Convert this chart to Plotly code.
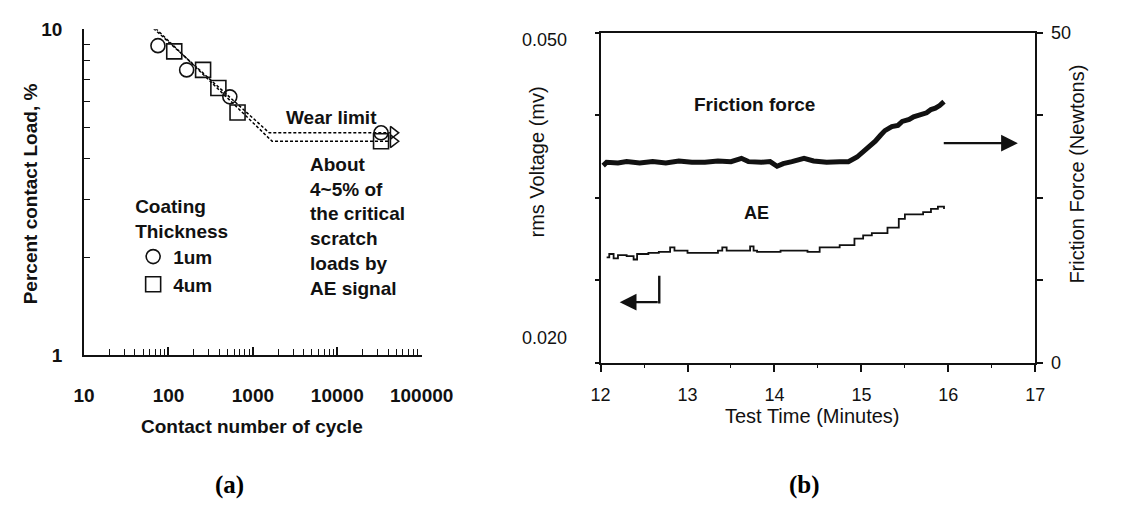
import plotly.graph_objects as go

# ---------------- Panel (a) data ----------------
cycles_1um = [75, 164, 533, 33000]
load_1um = [8.9, 7.5, 6.2, 4.81]
cycles_4um = [117, 257, 390, 658, 33000]
load_4um = [8.55, 7.5, 6.6, 5.55, 4.53]
upper_line_x = [60, 1560, 42000]
upper_line_y = [10.3, 4.81, 4.81]
lower_line_x = [64, 1690, 42000]
lower_line_y = [10.3, 4.53, 4.53]
arrow_x = [46000, 46000]
arrow_y = [4.81, 4.53]
a_xticks = [10, 100, 1000, 10000, 100000]
a_xticklabels = ["10", "100", "1000", "10000", "100000"]
a_yticks = [1, 10]
a_yticklabels = ["1", "10"]

# ---------------- Panel (b) data ----------------
time_ff = [12.03, 12.07, 12.2, 12.3, 12.45, 12.6, 12.75, 12.9, 13.05, 13.2, 13.35, 13.5,
           13.62, 13.7, 13.85, 13.95, 14.03, 14.1, 14.2, 14.34, 14.45, 14.6, 14.75, 14.85,
           14.95, 15.05, 15.1, 15.16, 15.22, 15.27, 15.35, 15.42, 15.47, 15.55, 15.6,
           15.7, 15.75, 15.8, 15.85, 15.9, 15.95]
friction = [29.9, 30.4, 30.3, 30.5, 30.3, 30.5, 30.3, 30.6, 30.4, 30.4, 30.6, 30.5,
            31.0, 30.5, 30.4, 30.5, 29.8, 30.2, 30.5, 31.0, 30.6, 30.4, 30.5, 30.5,
            31.2, 32.3, 32.7, 33.6, 34.5, 35.2, 35.8, 36.0, 36.6, 36.9, 37.3,
            37.8, 37.9, 38.4, 38.6, 39.0, 39.6]
time_ae = [12.07, 12.1, 12.15, 12.2, 12.3, 12.38, 12.42, 12.55, 12.67, 12.8, 12.85, 13.0,
           13.35, 13.4, 13.45, 13.72, 13.76, 13.8, 14.07, 14.38, 14.52, 14.75, 14.92, 15.02,
           15.12, 15.3, 15.43, 15.5, 15.71, 15.8, 15.88, 15.95]
ae_volt = [0.0296, 0.0299, 0.0295, 0.0298, 0.0297, 0.0294, 0.0299, 0.0300, 0.0301, 0.0305, 0.0302, 0.0300,
           0.0302, 0.0305, 0.0302, 0.0306, 0.0302, 0.0301, 0.0302, 0.0301, 0.0305, 0.0307, 0.0313, 0.0316,
           0.0318, 0.0323, 0.0331, 0.0335, 0.0337, 0.0340, 0.0342, 0.0340]
b_xticks = [12, 13, 14, 15, 16, 17]
b_left_ticks = [0.020, 0.0275, 0.035, 0.0425, 0.050]
b_right_ticks = [0, 12.5, 25, 37.5, 50]
b_right_labels = ["0", "", "", "", "50"]

W, H = 1125, 509
def px(x):
    return x / W
def py(y):
    return 1 - y / H

SANS = "Liberation Sans, Arial, sans-serif"
fa = dict(family=SANS, size=19, color="#111", weight="bold")
fb = dict(family=SANS, size=20, color="#111")

fig = go.Figure()

# Panel (a) traces
for lx, ly in ((upper_line_x, upper_line_y), (lower_line_x, lower_line_y)):
    fig.add_trace(go.Scatter(x=lx, y=ly, mode="lines", xaxis="x", yaxis="y",
                             line=dict(color="#000", width=1.5, dash="3px,2px"),
                             showlegend=False, hoverinfo="skip"))
fig.add_trace(go.Scatter(x=cycles_1um, y=load_1um, mode="markers", xaxis="x", yaxis="y", name="1um",
                         marker=dict(symbol="circle-open", size=14, color="#111", line=dict(width=1.6))))
fig.add_trace(go.Scatter(x=cycles_4um, y=load_4um, mode="markers", xaxis="x", yaxis="y", name="4um",
                         marker=dict(symbol="square-open", size=15, color="#111", line=dict(width=1.6))))
fig.add_trace(go.Scatter(x=arrow_x, y=arrow_y, mode="markers", xaxis="x", yaxis="y", showlegend=False,
                         marker=dict(symbol="triangle-right-open", size=11, color="#111", line=dict(width=1.5))))

# Panel (b) traces
fig.add_trace(go.Scatter(x=time_ae, y=ae_volt, mode="lines", xaxis="x2", yaxis="y2", showlegend=False,
                         line=dict(color="#111", width=1.8, shape="hv")))
fig.add_trace(go.Scatter(x=time_ff, y=friction, mode="lines", xaxis="x2", yaxis="y3", showlegend=False,
                         line=dict(color="#111", width=5)))

annotations = []
def txt(text, x, y, font, xanchor="center", yanchor="middle", angle=0, align="center"):
    annotations.append(dict(text=text, x=px(x), y=py(y), xref="paper", yref="paper", showarrow=False,
                            xanchor=xanchor, yanchor=yanchor, textangle=angle, font=font, align=align))

# Panel (a) text
txt("Percent contact Load, %", 20, 192, fa, angle=-90)
txt("Contact number of cycle", 251, 434, fa)
txt("Wear limit", 333, 112, fa)
txt("About<br>4~5% of<br>the critical<br>scratch<br>loads by<br>AE signal", 309, 226, fa,
    xanchor="left", align="left")
txt("<b>(a)</b>", 227, 495, dict(family="Liberation Serif, Times New Roman, serif", size=25, color="#000"))

# Panel (b) text
txt("rms Voltage (mv)", 547, 159, fb, angle=-90)
txt("Friction Force (Newtons)", 1108, 171, fb, angle=-90)
txt("Test Time (Minutes)", 833, 423, fb)
txt("Friction force", 773, 99, dict(family=SANS, size=19, color="#111", weight="bold"))
txt("AE", 775, 212, dict(family=SANS, size=18, color="#111", weight="bold"))
txt("0.050", 580, 31, dict(family=SANS, size=18, color="#111"), xanchor="right")
txt("0.020", 580, 342, dict(family=SANS, size=18, color="#111"), xanchor="right")
txt("<b>(b)</b>", 825, 495, dict(family="Liberation Serif, Times New Roman, serif", size=25, color="#000"))

# Arrows in panel (b)
annotations.append(dict(x=16.8, y=33.3, xref="x2", yref="y3", ax=15.93, ay=33.3, axref="x2", ayref="y3",
                        showarrow=True, arrowhead=2, arrowsize=1.4, arrowwidth=2.4, arrowcolor="#111", text=""))
annotations.append(dict(x=12.22, y=9.2, xref="x2", yref="y3", ax=12.675, ay=9.2, axref="x2", ayref="y3",
                        showarrow=True, arrowhead=2, arrowsize=1.4, arrowwidth=2.4, arrowcolor="#111", text=""))
shapes = [dict(type="line", xref="x2", yref="y3", x0=12.675, x1=12.675, y0=13.2, y1=9.0,
               line=dict(color="#111", width=2.4))]

a_minor_x = [m * d for d in (10, 100, 1000, 10000) for m in range(2, 10)]
a_minor_y = list(range(2, 10))

fig.update_layout(
    width=W, height=H, margin=dict(l=0, r=0, t=0, b=0),
    paper_bgcolor="white", plot_bgcolor="white",
    annotations=annotations, shapes=shapes,
    showlegend=True,
    legend=dict(x=px(127), y=py(186), xanchor="left", yanchor="top", bgcolor="rgba(0,0,0,0)",
                font=fa, title=dict(text="Coating<br>Thickness", font=fa, side="top"),
                itemwidth=30, tracegroupgap=0),
    xaxis=dict(type="log", domain=[px(76), px(427)], range=[1, 5], anchor="y",
               tickvals=a_xticks, ticktext=a_xticklabels, ticks="inside", ticklen=8, tickwidth=1.5,
               tickcolor="#111", showline=True, linecolor="#111", linewidth=2, showgrid=False,
               zeroline=False, tickfont=fa, ticklabelstandoff=22,
               minor=dict(tickvals=a_minor_x, ticks="inside", ticklen=6, tickwidth=1.3,
                          tickcolor="#111", showgrid=False)),
    yaxis=dict(type="log", domain=[py(360), py(20)], range=[0, 1], anchor="x",
               tickvals=a_yticks, ticktext=a_yticklabels, ticks="inside", ticklen=8, tickwidth=1.5,
               tickcolor="#111", showline=True, linecolor="#111", linewidth=2, showgrid=False,
               zeroline=False, tickfont=fa, ticklabelstandoff=16,
               minor=dict(tickvals=a_minor_y, ticks="inside", ticklen=6, tickwidth=1.3,
                          tickcolor="#111", showgrid=False)),
    xaxis2=dict(domain=[px(613), px(1065)], range=[12, 17], anchor="y2",
                tickvals=b_xticks, ticks="outside", ticklen=7, tickwidth=1.5, tickcolor="#111",
                showline=True, mirror=True, linecolor="#111", linewidth=2, showgrid=False, zeroline=False,
                tickfont=dict(family=SANS, size=18, color="#111"), ticklabelstandoff=8,
                minor=dict(tickvals=[12.5, 13.5, 14.5, 15.5, 16.5], ticks="outside", ticklen=3,
                           tickwidth=1.3, tickcolor="#111", showgrid=False)),
    yaxis2=dict(domain=[py(368), py(24)], range=[0.020, 0.050], anchor="x2",
                tickvals=b_left_ticks, showticklabels=False, ticks="outside", ticklen=4, tickwidth=1.5,
                tickcolor="#111", showline=True, linecolor="#111", linewidth=2, showgrid=False, zeroline=False),
    yaxis3=dict(overlaying="y2", side="right", range=[0, 50], anchor="x2",
                tickvals=b_right_ticks, ticktext=b_right_labels, ticks="outside", ticklen=6, tickwidth=1.5,
                tickcolor="#111", showline=True, linecolor="#111", linewidth=2, showgrid=False, zeroline=False,
                tickfont=dict(family=SANS, size=18, color="#111"), ticklabelstandoff=4),
)

fig.write_html("out.html")
